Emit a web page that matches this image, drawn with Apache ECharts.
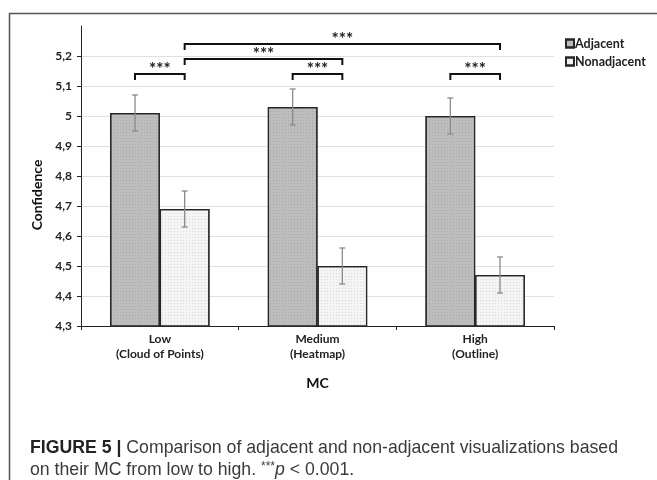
<!DOCTYPE html>
<html>
<head>
<meta charset="utf-8">
<script src="https://cdn.jsdelivr.net/npm/echarts@6/dist/echarts.min.js"></script>
<style>
html,body{margin:0;padding:0;background:#fff;}
#chart{width:657px;height:480px;}
</style>
</head>
<body>
<div id="chart"></div>
<script>
// ---- data ----
const categories = ['Low\n(Cloud of Points)', 'Medium\n(Heatmap)', 'High\n(Outline)'];
const seriesNames = ['Adjacent', 'Nonadjacent'];
const adjacent = [5.01, 5.03, 5.00];
const nonadjacent = [4.69, 4.50, 4.47];
const adjacentErr = [0.06, 0.06, 0.06];
const nonadjacentErr = [0.06, 0.06, 0.06];
const yMin = 4.3, yMax = 5.3, yStep = 0.1;
// significance brackets: [fromCategory, fromSeries, toCategory, toSeries, level]
const brackets = [
  [0, 0, 0, 1, 5.14],
  [0, 1, 1, 1, 5.19],
  [0, 1, 2, 1, 5.24],
  [1, 0, 1, 1, 5.14],
  [2, 0, 2, 1, 5.14]
];
const sigLabel = '***';
const caption1 = 'Comparison of adjacent and non-adjacent visualizations based';
const caption2a = 'on their MC from low to high. ';

// ---- styling ----
const FONT = 'Lato, "Open Sans", sans-serif';
const CAP_FONT = '"Liberation Sans", Arial, sans-serif';
const CAT_GAP = 0.37; // barCategoryGap fraction

function barHalf(api) {
  const cw = api.size([1, 0])[0];
  return cw * (1 - CAT_GAP) / 2;
}
function barCenter(api, cat, sIdx, val) {
  const p = api.coord([cat, val]);
  const bw = barHalf(api);
  return [p[0] + (sIdx === 0 ? -bw / 2 : bw / 2), p[1]];
}

const errData = [];
adjacent.forEach((v, i) => errData.push([i, v - adjacentErr[i], v + adjacentErr[i], 0]));
nonadjacent.forEach((v, i) => errData.push([i, v - nonadjacentErr[i], v + nonadjacentErr[i], 1]));

const chart = echarts.init(document.getElementById('chart'), null, {renderer: 'canvas'});

const decalDots = {symbol: 'rect', symbolSize: 1, dashArrayX: [1, 2], dashArrayY: [1, 2], color: 'rgba(0,0,0,0.10)'};

chart.setOption({
  animation: false,
  backgroundColor: '#fff',
  grid: {left: 81, top: 26, right: 103, bottom: 154, containLabel: false},
  legend: {
    orient: 'vertical', left: 560, top: 32, itemWidth: 8, itemHeight: 8, itemGap: 5,
    icon: 'rect',
    textStyle: {fontFamily: FONT, fontWeight: 'bold', fontSize: 12.5, color: '#222', padding: [0, 0, 0, -4]},
    data: seriesNames
  },
  xAxis: {
    type: 'category', data: categories,
    name: 'MC', nameLocation: 'middle', nameGap: 50,
    nameTextStyle: {fontFamily: FONT, fontWeight: 'bold', fontSize: 14, color: '#111'},
    axisLine: {lineStyle: {color: '#222', width: 1}},
    axisTick: {show: true, length: 4, lineStyle: {color: '#222'}},
    axisLabel: {fontFamily: FONT, fontWeight: 'bold', fontSize: 12, color: '#222', lineHeight: 15, margin: 6}
  },
  yAxis: {
    type: 'value', min: yMin, max: yMax, interval: yStep,
    name: 'Confidence', nameLocation: 'middle', nameRotate: 90, nameGap: 37,
    nameTextStyle: {fontFamily: FONT, fontWeight: 'bold', fontSize: 14, color: '#111', padding: [0, 38, 0, 0]},
    axisLine: {show: true, lineStyle: {color: '#222', width: 1}},
    axisTick: {show: true, length: 4, lineStyle: {color: '#222'}},
    axisLabel: {
      fontFamily: FONT, fontWeight: 'bold', fontSize: 12, color: '#222', margin: 9,
      showMaxLabel: false,
      formatter: v => String(Math.round(v * 10) / 10).replace('.', ',')
    },
    splitLine: {show: true, showMaxLine: false, lineStyle: {color: '#e0e0e0', width: 1}}
  },
  series: [
    {
      name: seriesNames[0], type: 'bar', data: adjacent, barGap: '0%', barCategoryGap: (CAT_GAP * 100) + '%',
      itemStyle: {color: '#bdbdbd', borderColor: '#262626', borderWidth: 1.2, decal: decalDots}
    },
    {
      name: seriesNames[1], type: 'bar', data: nonadjacent, barGap: '0%', barCategoryGap: (CAT_GAP * 100) + '%',
      itemStyle: {color: '#f4f4f4', borderColor: '#262626', borderWidth: 1.2, decal: decalDots}
    },
    {
      type: 'custom', name: 'err', data: errData, z: 5, silent: true, clip: false,
      encode: {x: 0, y: [1, 2]},
      renderItem: (params, api) => {
        const cat = api.value(0), lo = api.value(1), hi = api.value(2), s = api.value(3);
        const pLo = barCenter(api, cat, s, lo), pHi = barCenter(api, cat, s, hi);
        const c = 3;
        const st = {stroke: '#8a8a8a', lineWidth: 1.3};
        return {type: 'group', children: [
          {type: 'line', shape: {x1: pLo[0], y1: pLo[1], x2: pHi[0], y2: pHi[1]}, style: st},
          {type: 'line', shape: {x1: pLo[0] - c, y1: pLo[1], x2: pLo[0] + c, y2: pLo[1]}, style: st},
          {type: 'line', shape: {x1: pHi[0] - c, y1: pHi[1], x2: pHi[0] + c, y2: pHi[1]}, style: st}
        ]};
      }
    },
    {
      type: 'custom', name: 'sig', data: brackets, z: 6, silent: true, clip: false,
      encode: {x: 0, y: 4},
      renderItem: (params, api) => {
        const c1 = api.value(0), s1 = api.value(1), c2 = api.value(2), s2 = api.value(3), lvl = api.value(4);
        const a = barCenter(api, c1, s1, lvl), b = barCenter(api, c2, s2, lvl);
        const d = 6;
        return {type: 'group', children: [
          {type: 'polyline', shape: {points: [[a[0], a[1] + d], [a[0], a[1]], [b[0], b[1]], [b[0], b[1] + d]]},
           style: {stroke: '#111', lineWidth: 2, fill: null}},
          {type: 'text', style: {text: sigLabel, x: (a[0] + b[0]) / 2, y: a[1] + 4, align: 'center', verticalAlign: 'bottom',
            fontFamily: FONT, fontWeight: 'bold', fontSize: 17, fill: '#222'}}
        ]};
      }
    }
  ],
  title: {
    left: 25, top: 432,
    text: '{b|FIGURE 5 |} ' + caption1 + '\n' + caption2a + '{s|***}{i|p} < 0.001.',
    textStyle: {
      fontFamily: CAP_FONT, fontSize: 17.7, fontWeight: 'normal', color: '#3a3a3a', lineHeight: 22,
      rich: {
        b: {fontFamily: CAP_FONT, fontSize: 17.7, fontWeight: 'bold', color: '#222', lineHeight: 22},
        i: {fontFamily: CAP_FONT, fontSize: 17.7, fontStyle: 'italic', color: '#3a3a3a', lineHeight: 22},
        s: {fontFamily: CAP_FONT, fontSize: 12, color: '#3a3a3a', lineHeight: 22, padding: [0, 0, 6, 0]}
      }
    }
  },
  graphic: [
    {type: 'rect', left: 7, top: 11, z: -1, silent: true,
     shape: {width: 700, height: 520}, style: {fill: null, stroke: '#555', lineWidth: 1.5}}
  ]
});
</script>
</body>
</html>
